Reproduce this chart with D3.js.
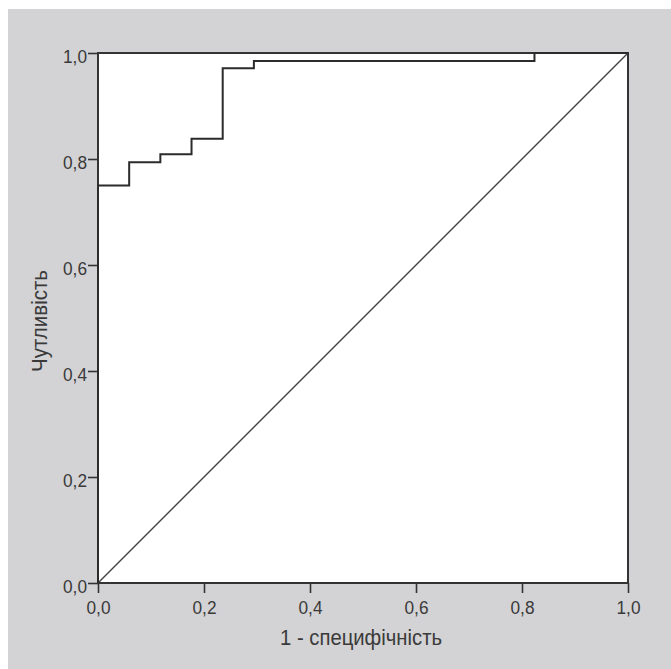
<!DOCTYPE html>
<html>
<head>
<meta charset="utf-8">
<script src="https://cdn.jsdelivr.net/npm/d3@7"></script>
<style>
  body { margin: 0; background: #ffffff; }
  svg text { font-family: "Liberation Sans", Arial, sans-serif; fill: #333; }
</style>
</head>
<body>
<svg id="chart"></svg>
<script>
// ROC curve: 1 - specificity (x) vs sensitivity (y)
const fpr  = [0, 0, 1/17, 1/17, 2/17, 2/17, 3/17, 3/17, 4/17, 4/17, 5/17, 5/17, 14/17, 14/17, 1];
const tpr  = [0, 0.75, 0.75, 0.794, 0.794, 0.809, 0.809, 0.838, 0.838, 0.971, 0.971, 0.985, 0.985, 1, 1];
const xTicks = [0, 0.2, 0.4, 0.6, 0.8, 1.0];
const yTicks = [0, 0.2, 0.4, 0.6, 0.8, 1.0];
const xTitle = '1 - специфічність';
const yTitle = 'Чутливість';

const W = 671, H = 669;
const plotLeft = 98, plotTop = 53, plotSize = 530;

const svg = d3.select('#chart')
              .attr('width', W)
              .attr('height', H);

svg.append('rect')
   .attr('x', 8).attr('y', 9)
   .attr('width', W - 8).attr('height', H - 9)
   .attr('fill', '#d3d3d5');

const x = d3.scaleLinear().domain([0, 1]).range([plotLeft, plotLeft + plotSize]);
const y = d3.scaleLinear().domain([0, 1]).range([plotTop + plotSize, plotTop]);

svg.append('rect')
   .attr('x', x(0)).attr('y', y(1))
   .attr('width', plotSize).attr('height', plotSize)
   .attr('fill', '#fff');

const fmt = d => d3.format('.1f')(d).replace('.', ',');

const xAxis = svg.append('g')
                 .attr('transform', `translate(0,${y(0)})`)
                 .call(d3.axisBottom(x).tickValues(xTicks).tickFormat(fmt).tickSize(10).tickSizeOuter(0));
const yAxis = svg.append('g')
                 .attr('transform', `translate(${x(0)},0)`)
                 .call(d3.axisLeft(y).tickValues(yTicks).tickFormat(fmt).tickSize(10).tickSizeOuter(0));

[xAxis, yAxis].forEach(g => {
  g.select('.domain').remove();
  g.selectAll('line').attr('stroke', '#333').attr('stroke-width', 1.6);
  g.selectAll('text')
   .style('font-size', '18px')
   .style('fill', '#3a3a3a')
   .attr('font-family', null)
   .attr('textLength', 24)
   .attr('lengthAdjust', 'spacingAndGlyphs');
});
xAxis.selectAll('text').attr('y', 31).attr('dy', 0);
yAxis.selectAll('text').attr('x', -11).attr('dy', 9);

// diagonal reference line
svg.append('line')
   .attr('x1', x(0)).attr('y1', y(0))
   .attr('x2', x(1)).attr('y2', y(1))
   .attr('stroke', '#444')
   .attr('stroke-width', 1.4);

// frame
svg.append('rect')
   .attr('x', x(0)).attr('y', y(1))
   .attr('width', plotSize).attr('height', plotSize)
   .attr('fill', 'none')
   .attr('stroke', '#333')
   .attr('stroke-width', 2);

const line = d3.line()
               .x((d, i) => x(fpr[i]))
               .y((d, i) => y(d));
svg.append('path')
   .datum(tpr)
   .attr('d', line)
   .attr('fill', 'none')
   .attr('stroke', '#2b2b2b')
   .attr('stroke-width', 2);

svg.append('text')
   .attr('x', 361).attr('y', 645)
   .attr('text-anchor', 'middle')
   .attr('textLength', 162)
   .attr('lengthAdjust', 'spacingAndGlyphs')
   .style('font-size', '22px')
   .style('fill', '#3a3a3a')
   .text(xTitle);

svg.append('text')
   .attr('transform', `translate(47,321) rotate(-90)`)
   .attr('text-anchor', 'middle')
   .attr('textLength', 102)
   .attr('lengthAdjust', 'spacingAndGlyphs')
   .style('font-size', '22px')
   .style('fill', '#3a3a3a')
   .text(yTitle);
</script>
</body>
</html>
